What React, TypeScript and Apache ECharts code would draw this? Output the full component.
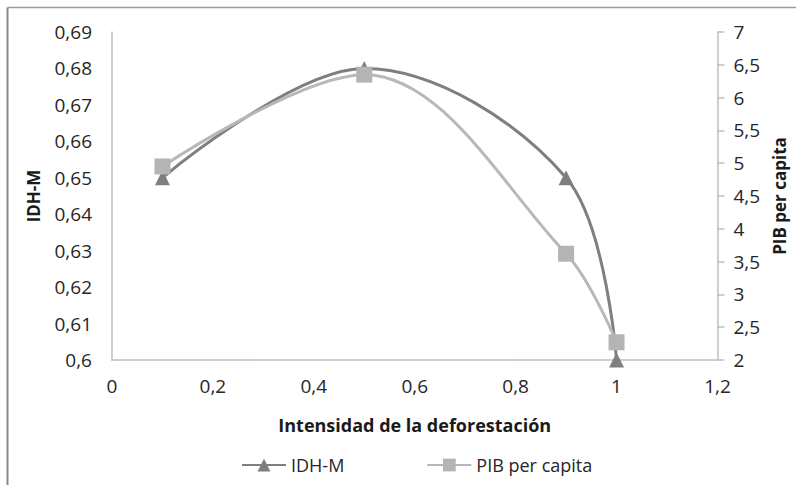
import React, { useEffect, useRef } from "react";
import * as echarts from "echarts";

const xValues = [0.1, 0.5, 0.9, 1];
const idhValues = [0.65, 0.68, 0.65, 0.6];
const pibValues = [4.95, 6.35, 3.62, 2.27];

const FONT = "'Open Sans', 'Noto Sans', sans-serif";
const comma = (v: number) => String(Math.round(v * 100) / 100).replace(".", ",");

export default function App() {
  const ref = useRef<HTMLDivElement>(null);
  useEffect(() => {
    document.body.style.margin = "0";
    const chart = echarts.init(ref.current!, null, { renderer: "svg" });
    chart.setOption({
      animation: false,
      backgroundColor: "#ffffff",
      textStyle: { fontFamily: FONT },
      grid: { left: 112, right: 76, top: 32, bottom: 125, containLabel: false },
      graphic: [
        { type: "line", shape: { x1: 7.5, y1: 7.5, x2: 796, y2: 7.5 }, style: { stroke: "#9a9a9a", lineWidth: 1.5 } },
        { type: "line", shape: { x1: 7.5, y1: 7.5, x2: 7.5, y2: 485 }, style: { stroke: "#8a8a8a", lineWidth: 2 } },
      ],
      legend: {
        left: 236,
        top: 451,
        itemWidth: 44,
        itemHeight: 16,
        itemGap: 82,
        textStyle: { fontFamily: FONT, fontSize: 18, color: "#262626" },
        data: ["IDH-M", "PIB per capita"],
      },
      xAxis: {
        type: "value",
        min: 0,
        max: 1.2,
        interval: 0.2,
        name: "Intensidad de la deforestación",
        nameLocation: "middle",
        nameGap: 56,
        nameTextStyle: { fontFamily: FONT, fontSize: 18, fontWeight: "bold", color: "#1a1a1a" },
        axisLine: { lineStyle: { color: "#bfbfbf", width: 1.5 } },
        axisTick: { show: false },
        splitLine: { show: false },
        axisLabel: { fontSize: 19, color: "#262626", margin: 16, formatter: comma },
      },
      yAxis: [
        {
          type: "value",
          min: 0.6,
          max: 0.69,
          interval: 0.01,
          name: "IDH-M",
          nameLocation: "middle",
          nameRotate: 90,
          nameGap: 70,
          nameTextStyle: { fontFamily: FONT, fontSize: 17, fontWeight: "bold", color: "#1a1a1a" },
          axisLine: { show: true, lineStyle: { color: "#bfbfbf", width: 1.5 } },
          axisTick: { show: false },
          splitLine: { show: false },
          axisLabel: { fontSize: 19, color: "#262626", margin: 20, formatter: comma },
        },
        {
          type: "value",
          min: 2,
          max: 7,
          interval: 0.5,
          position: "right",
          name: "PIB per capita",
          nameLocation: "middle",
          nameRotate: 90,
          nameGap: 62,
          nameTextStyle: { fontFamily: FONT, fontSize: 17, fontWeight: "bold", color: "#1a1a1a", verticalAlign: "bottom" },
          axisLine: { show: true, lineStyle: { color: "#bfbfbf", width: 1.5 } },
          axisTick: { show: true, length: 7, lineStyle: { color: "#bfbfbf", width: 1.5 } },
          splitLine: { show: false },
          axisLabel: { fontSize: 19, color: "#262626", margin: 16, formatter: comma },
        },
      ],
      series: [
        {
          name: "IDH-M",
          type: "line",
          yAxisIndex: 0,
          smooth: 0.35,
          symbol: "triangle",
          symbolSize: 15,
          lineStyle: { color: "#7f7f7f", width: 3 },
          itemStyle: { color: "#7f7f7f" },
          data: xValues.map((x, i) => [x, idhValues[i]]),
        },
        {
          name: "PIB per capita",
          type: "line",
          yAxisIndex: 1,
          smooth: 0.35,
          symbol: "rect",
          symbolSize: 16,
          lineStyle: { color: "#b8b8b8", width: 3 },
          itemStyle: { color: "#b4b4b4" },
          data: xValues.map((x, i) => [x, pibValues[i]]),
        },
      ],
    });
    return () => chart.dispose();
  }, []);
  return <div ref={ref} style={{ width: 796, height: 485 }} />;
}
